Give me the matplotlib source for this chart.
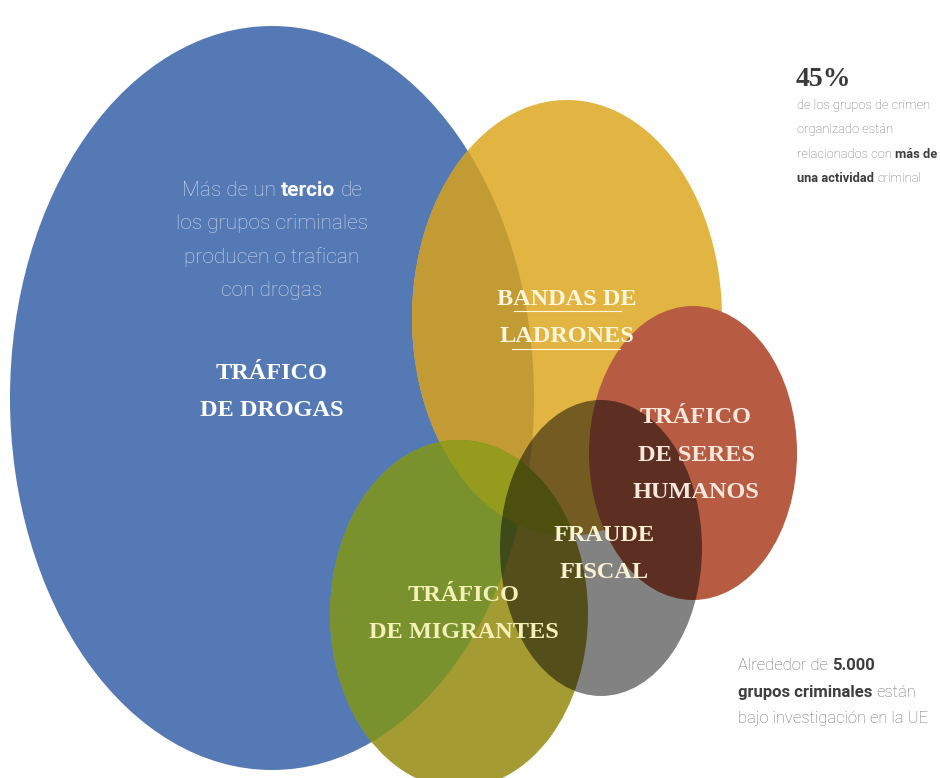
import numpy as np
import matplotlib
matplotlib.use('Agg')
import matplotlib.pyplot as plt
from matplotlib.patches import Ellipse, Polygon
from matplotlib.transforms import ScaledTranslation
from matplotlib import font_manager

# ---- data: the five sets (ellipse geometry in picture pixels) ----
sets = ['TRÁFICO\nDE DROGAS', 'BANDAS DE\nLADRONES', 'TRÁFICO\nDE MIGRANTES',
        'TRÁFICO\nDE SERES\nHUMANOS', 'FRAUDE\nFISCAL']
set_cx = [272, 567, 459, 693, 601]
set_cy = [398, 318, 614, 453, 548]
set_w = [524, 310, 258, 208, 202]
set_h = [744, 436, 348, 294, 296]
label_x = [272, 567, 464, 696, 604]
label_y = [392, 318, 614, 455, 554]

pct_value = '45%'
total_groups = '5.000'

# ---- fonts ----
names = {f.name for f in font_manager.fontManager.ttflist}
body_font = 'Liberation Sans Narrow' if 'Liberation Sans Narrow' in names else 'Roboto'
head_kw = dict(family='Liberation Serif', weight='bold')

W, H = 940, 778
fig = plt.figure(figsize=(W / 100, H / 100), dpi=100)
ax = fig.add_axes([0, 0, 1, 1])
ax.set_xlim(0, W)
ax.set_ylim(H, 0)
ax.set_aspect('equal')
ax.axis('off')


def ell(i, **kw):
    return Ellipse((set_cx[i], set_cy[i]), set_w[i], set_h[i], **kw)


def inside(x, y, i, tol=1e-9):
    return ((x - set_cx[i]) / (set_w[i] / 2)) ** 2 + ((y - set_cy[i]) / (set_h[i] / 2)) ** 2 <= 1 + tol


def overlap(*idx):
    # convex intersection of ellipses as a polygon
    t = np.linspace(0, 2 * np.pi, 3000, endpoint=False)
    pts = []
    for i in idx:
        x = set_cx[i] + set_w[i] / 2 * np.cos(t)
        y = set_cy[i] + set_h[i] / 2 * np.sin(t)
        keep = np.ones_like(x, dtype=bool)
        for j in idx:
            if j != i:
                keep &= inside(x, y, j)
        pts.append(np.column_stack([x[keep], y[keep]]))
    pts = np.vstack(pts)
    c = pts.mean(axis=0)
    order = np.argsort(np.arctan2(pts[:, 1] - c[1], pts[:, 0] - c[0]))
    return pts[order]


DRG, BND, MIG, SER, FRA = range(5)

ax.add_patch(ell(DRG, color='#5579b5', lw=0))
ax.add_patch(ell(BND, color='#e2b441', lw=0))
ax.add_patch(Polygon(overlap(DRG, BND), closed=True, color='#c39b35', lw=0))
ax.add_patch(ell(MIG, color='#a59b33', lw=0))
ax.add_patch(Polygon(overlap(MIG, DRG), closed=True, color='#7a922e', lw=0))
ax.add_patch(Polygon(overlap(MIG, BND), closed=True, color='#959b1c', lw=0))
ax.add_patch(ell(SER, color='#b75b43', lw=0))
ax.add_patch(ell(FRA, color='black', alpha=0.49, lw=0))

# ---- set labels ----
label_colors = ['white', '#fff6dc', '#f4f0b8', '#f8e8dc', '#faf3d2']
for i, s in enumerate(sets):
    ax.text(label_x[i], label_y[i], s, ha='center', va='center', fontsize=17.5,
            color=label_colors[i], linespacing=2.05, **head_kw)

# thin underline under "BANDAS DE LADRONES"
ax.plot([514, 621], [311, 311], color='#fff6dc', lw=0.8)
ax.plot([512, 620], [349, 349], color='#fff6dc', lw=0.8)

fig.canvas.draw()
renderer = fig.canvas.get_renderer()


def rich_line(x, y, parts, size, color, bold_color, ha='left'):
    texts = []
    for s, bold in parts:
        t = ax.text(x, y, s, fontsize=size, family=body_font, va='center',
                    weight='bold' if bold else 'light',
                    color=bold_color if bold else color)
        texts.append(t)
    sp = ax.text(0, 0, 'x x', fontsize=size, family=body_font)
    nsp = ax.text(0, 0, 'xx', fontsize=size, family=body_font)
    gap = sp.get_window_extent(renderer).width - nsp.get_window_extent(renderer).width
    sp.remove()
    nsp.remove()
    widths = [t.get_window_extent(renderer).width for t in texts]
    total = sum(widths) + gap * (len(texts) - 1)
    off = -total / 2 if ha == 'center' else 0
    for t, w in zip(texts, widths):
        t.set_transform(ax.transData + ScaledTranslation(off / 100, 0, fig.dpi_scale_trans))
        off += w + gap


# text inside the blue set
blue_lines = [[('Más de un', False), ('tercio', True), ('de', False)],
              [('los grupos criminales', False)],
              [('producen o trafican', False)],
              [('con drogas', False)]]
for k, parts in enumerate(blue_lines):
    rich_line(272, 190 + 33.5 * k, parts, 15, '#cdd8ec', 'white', ha='center')

# top right note
ax.text(796, 79, pct_value, fontsize=20, color='#3a3a3a', va='center', ha='left', **head_kw)
top_lines = [[('de los grupos de crimen', False)],
             [('organizado están', False)],
             [('relacionados con', False), ('más de', True)],
             [('una actividad', True), ('criminal', False)]]
for k, parts in enumerate(top_lines):
    rich_line(797, 105 + 24.5 * k, parts, 9.3, '#6e6e6e', '#3e3e3e')

# bottom right note
bottom_lines = [[('Alrededor de', False), (total_groups, True)],
                [('grupos criminales', True), ('están', False)],
                [('bajo investigación en la UE', False)]]
for k, parts in enumerate(bottom_lines):
    rich_line(738, 666 + 26.5 * k, parts, 12, '#6e6e6e', '#3e3e3e')

fig.savefig('out.png', dpi=100, facecolor='white')
